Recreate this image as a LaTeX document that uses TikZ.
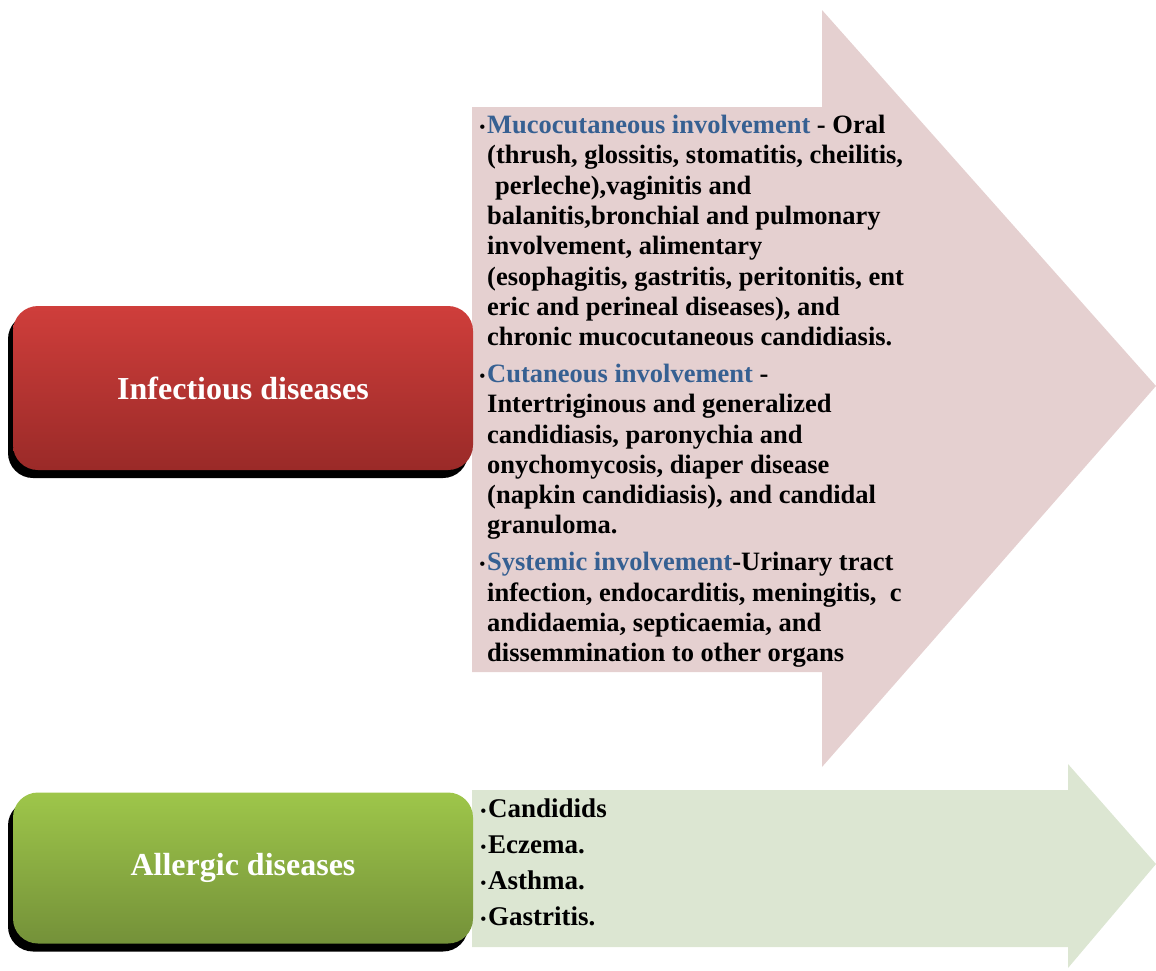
\documentclass[tikz,border=0pt]{standalone}
\usepackage{fontspec}
\setmainfont{Liberation Serif}
\usetikzlibrary{positioning,shadows}

\definecolor{arrowpink}{RGB}{229,208,208}
\definecolor{arrowgreen}{RGB}{220,230,210}
\definecolor{headblue}{RGB}{54,96,146}
\definecolor{redtop}{RGB}{207,62,59}
\definecolor{redbottom}{RGB}{154,42,40}
\definecolor{greentop}{RGB}{158,198,74}
\definecolor{greenbottom}{RGB}{116,145,57}

\newcommand{\itembullet}{\llap{\raisebox{1pt}{\fontsize{16}{16}\selectfont •}\hspace{2pt}}}

\begin{document}
\begin{tikzpicture}[x=1pt, y=-1pt, node distance=480pt,
  diseasebox/.style={rectangle, rounded corners=25pt, minimum width=460pt, minimum height=164pt, text=white, font=\fontsize{32}{36}\selectfont\bfseries, drop shadow={shadow xshift=-5pt, shadow yshift=-8pt, fill=black, opacity=1}},
  listtext/.style={inner sep=0pt, align=left, anchor=north west}]

\useasboundingbox (0,0) rectangle (1156,970);

% Big arrow behind the infectious diseases
\fill[arrowpink] (472,107) -- (822,107) -- (822,10) -- (1156,386) -- (822,767) -- (822,672) -- (472,672) -- cycle;

% Small arrow behind the allergic diseases
\fill[arrowgreen] (472,790) -- (1068,790) -- (1068,764) -- (1156,864) -- (1068,968) -- (1068,947) -- (472,947) -- cycle;

% Infectious diseases
\node (infectious) [diseasebox, top color=redtop, bottom color=redbottom] at (243,388) {Infectious diseases};

% Allergic diseases below Infectious diseases
\node (allergic) [diseasebox, top color=greentop, bottom color=greenbottom, minimum height=151pt, below of=infectious] {Allergic diseases};

% Involvement list inside the big arrow
\node (infectlist) [listtext, font=\fontsize{26.5}{30.3}\selectfont\bfseries] at (487,115) {%
\itembullet\textcolor{headblue}{Mucocutaneous involvement} - Oral\\
(thrush, glossitis, stomatitis, cheilitis,\\
\hspace*{0.3em}perleche),vaginitis and\\
balanitis,bronchial and pulmonary\\
involvement, alimentary\\
(esophagitis, gastritis, peritonitis, ent\\
eric and perineal diseases), and\\
chronic mucocutaneous candidiasis.\\[6.5pt]
\itembullet\textcolor{headblue}{Cutaneous involvement} -\\
Intertriginous and generalized\\
candidiasis, paronychia and\\
onychomycosis, diaper disease\\
(napkin candidiasis), and candidal\\
granuloma.\\[6.5pt]
\itembullet\textcolor{headblue}{Systemic involvement}-Urinary tract\\
infection, endocarditis, meningitis,\ \ c\\
andidaemia, septicaemia, and\\
dissemmination to other organs};

% Allergy list inside the small arrow
\node (allergylist) [listtext, font=\fontsize{27}{36}\selectfont\bfseries] at (488,799) {%
\itembullet Candidids\\
\itembullet Eczema.\\
\itembullet Asthma.\\
\itembullet Gastritis.};

\end{tikzpicture}
\end{document}
